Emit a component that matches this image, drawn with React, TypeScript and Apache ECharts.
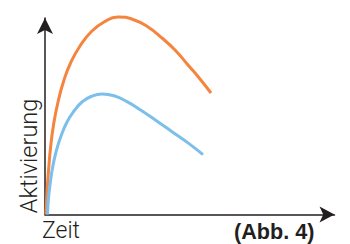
import React, { useEffect, useRef } from "react";
import * as echarts from "echarts";

const orangeX = [0.35, 0.69, 1.24, 1.9, 2.94, 4.49, 6.56, 8.98, 12.09, 15.89, 20.38, 25.22, 30.4, 35.58, 40.41, 44.91, 49.4, 53.54, 57.34];
const orangeY = [0, 11.45, 22.65, 33.84, 45.55, 57.25, 68.45, 77.61, 85.75, 92.88, 97.96, 100.51, 99.24, 95.42, 89.82, 83.72, 76.08, 68.96, 61.83];
const blueX = [0.86, 1.14, 1.73, 2.59, 3.8, 5.53, 7.6, 10.02, 12.78, 15.89, 19.69, 23.83, 28.32, 33.16, 38.34, 43.87, 49.4, 54.58];
const blueY = [0, 7.38, 15.01, 23.66, 31.81, 39.95, 47.07, 52.67, 57.25, 60.05, 61.32, 60.41, 57.46, 53.03, 47.84, 42.14, 36.44, 30.43];
const xLabel = "Zeit";
const yLabel = "Aktivierung";
const figLabel = "(Abb. 4)";

export default function App() {
  const ref = useRef<HTMLDivElement>(null);
  useEffect(() => {
    if (!ref.current) return;
    const chart = echarts.init(ref.current, null, { renderer: "svg" });
    const axisLine = {
      show: true,
      symbol: ["none", "arrow"],
      lineStyle: { color: "#231f20", width: 1.5 },
    };
    chart.setOption({
      animation: false,
      grid: { left: 45, right: 15.5, top: 18, bottom: 29.5 },
      xAxis: {
        type: "value",
        min: 0,
        max: 100,
        axisLine: { ...axisLine, symbolSize: [12, 15] },
        axisTick: { show: false },
        axisLabel: { show: false },
        splitLine: { show: false },
      },
      yAxis: {
        type: "value",
        min: 0,
        max: 100,
        axisLine: { ...axisLine, symbolSize: [12, 16] },
        axisTick: { show: false },
        axisLabel: { show: false },
        splitLine: { show: false },
      },
      series: [
        {
          type: "line",
          data: orangeX.map((x, i) => [x, orangeY[i]]),
          smooth: 0.5,
          showSymbol: false,
          clip: false,
          lineStyle: { color: "#f5843f", width: 3 },
        },
        {
          type: "line",
          data: blueX.map((x, i) => [x, blueY[i]]),
          smooth: 0.5,
          showSymbol: false,
          clip: false,
          lineStyle: { color: "#7bbfea", width: 3 },
        },
      ],
      graphic: [
        {
          type: "text",
          x: 42,
          y: 219,
          style: {
            text: xLabel,
            font: "300 23px Roboto, 'Liberation Sans', sans-serif",
            fill: "#231f20",
            textAlign: "left",
            textVerticalAlign: "top",
          },
        },
        {
          type: "text",
          x: 29,
          y: 156,
          rotation: Math.PI / 2,
          style: {
            text: yLabel,
            font: "300 23.5px Roboto, 'Liberation Sans', sans-serif",
            fill: "#231f20",
            textAlign: "center",
            textVerticalAlign: "middle",
          },
        },
        {
          type: "text",
          x: 234,
          y: 220,
          scaleX: 0.96,
          style: {
            text: figLabel,
            font: "bold 22.5px 'Liberation Sans', sans-serif",
            fill: "#231f20",
            textAlign: "left",
            textVerticalAlign: "top",
          },
        },
      ],
    });
    return () => chart.dispose();
  }, []);
  return <div ref={ref} style={{ width: 350, height: 244, position: "absolute", left: 0, top: 0 }} />;
}
